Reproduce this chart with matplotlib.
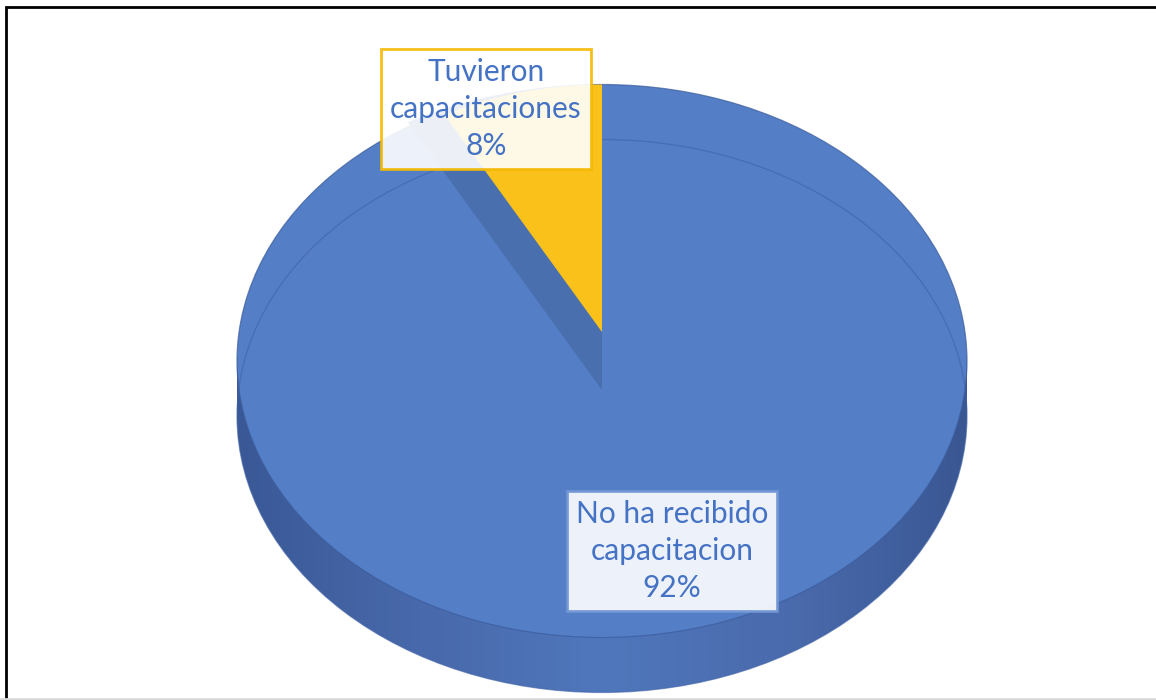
import numpy as np
import matplotlib
matplotlib.use("Agg")
import matplotlib.pyplot as plt
from matplotlib.patches import Ellipse, Rectangle
from matplotlib.colors import LinearSegmentedColormap
from matplotlib.lines import Line2D

# datos
etiquetas = ['Tuvieron\ncapacitaciones', 'No ha recibido\ncapacitacion']
valores = [8, 92]
colores = ['#f9c11a', '#547ec6']

plt.rcParams['font.family'] = ['Lato', 'DejaVu Sans']

fig = plt.figure(figsize=(11.56, 7.0), dpi=100)
ax = fig.add_axes([0, 0, 1, 1])

# escala de la elipse (pixeles por unidad)
rx, ry = 365.0, 276.5
cx, cy = 602.0, 361.0
prof = 55.0 / ry       # profundidad del lateral
baja = 29.0 / ry       # vertice del hueco (mas abajo por la perspectiva)
sube = 29.0 / ry       # vertice de la porcion amarilla

# lateral del pastel con degradado
cmap = LinearSegmentedColormap.from_list(
    'lado', ['#3a5896', '#4869ab', '#5077bc', '#4a6bad', '#3a5793'])
grad = np.linspace(0, 1, 256).reshape(1, -1)
for forma in [Ellipse((0, -prof), 2, 2), Rectangle((-1, -prof), 2, prof)]:
    ax.add_patch(forma)
    forma.set_visible(False)
    im = ax.imshow(grad, cmap=cmap, aspect='auto', extent=(-1, 1, -1 - prof, 1),
                   zorder=1)
    im.set_clip_path(forma)

# cara superior azul
ax.pie(valores, colors=[colores[1], colores[1]], startangle=90, counterclock=True,
       radius=1, center=(0, 0), wedgeprops=dict(linewidth=0, zorder=2))

# lineas tenues de los bordes
ax.add_patch(Ellipse((0, -prof), 2, 2, fill=False, ec='#3f62a6', lw=0.9,
                     alpha=0.6, zorder=3))
ax.add_patch(Ellipse((0, 0), 2, 2, fill=False, ec='#3b5c9c', lw=0.9,
                     alpha=0.7, zorder=3))

# cara de corte oscura de la porcion azul
ax.pie(valores, colors=['#4a6fae', 'none'], startangle=90, counterclock=True,
       radius=1 + baja, center=(0, -baja), wedgeprops=dict(linewidth=0, zorder=3.5))

# porcion amarilla
ax.pie(valores, colors=[colores[0], 'none'], startangle=90, counterclock=True,
       radius=1 - sube, center=(0, sube), wedgeprops=dict(linewidth=0, zorder=4))

ax.set_aspect('auto')
ax.set_xlim(-cx / rx, (1156 - cx) / rx)
ax.set_ylim(-(700 - cy) / ry, cy / ry)
ax.axis('off')

# etiquetas de datos
posiciones = [((486 - cx) / rx, (cy - 109) / ry), ((672 - cx) / rx, (cy - 551) / ry)]
bordes = ['#f5b800', '#7196d4']
for etq, v, (x, y), bc in zip(etiquetas, valores, posiciones, bordes):
    ax.text(x, y, f'{etq}\n{v}%', ha='center', va='center', fontsize=21.5,
            color='#4472c4', linespacing=1.38, zorder=6,
            bbox=dict(boxstyle='square,pad=0.3', fc='white', alpha=0.9,
                      ec=bc, lw=2))

# marco del grafico
fig.add_artist(Rectangle((6 / 1156, -0.05), 1.2, 1 - 7 / 700 + 0.05,
                         transform=fig.transFigure, fill=False, ec='black', lw=2))
fig.add_artist(Line2D([0, 1], [1.5 / 700, 1.5 / 700], transform=fig.transFigure,
                      color='#d9d9d9', lw=2))

fig.savefig('out.png', dpi=100)
